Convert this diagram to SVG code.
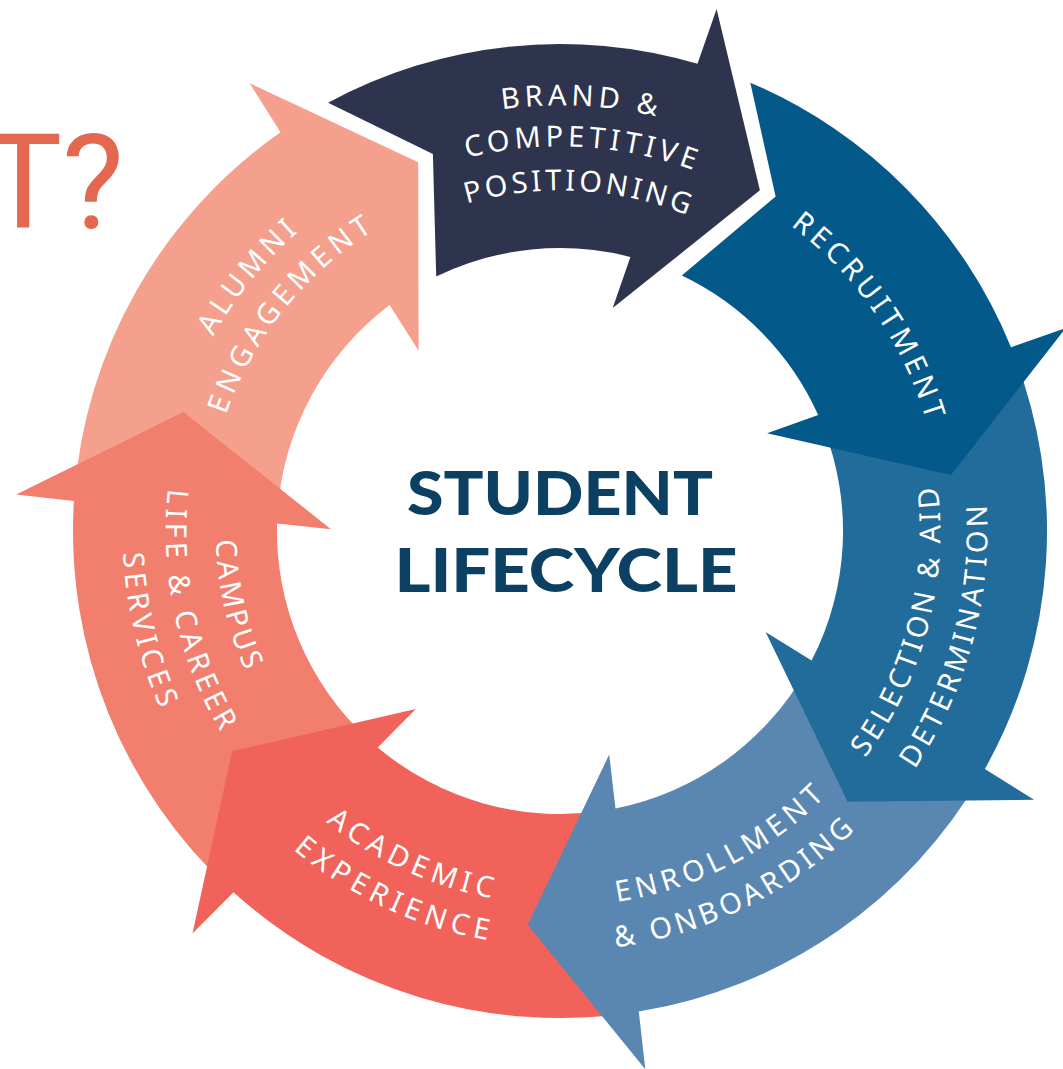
<svg xmlns="http://www.w3.org/2000/svg" xmlns:xlink="http://www.w3.org/1999/xlink" width="1063" height="1069" viewBox="0 0 1063 1069">
<style>
  .lbl { font-family: "Noto Sans", Lato, "Liberation Sans", sans-serif; font-size: 29px; font-weight: 400; fill: #ffffff; text-anchor: middle; }
  .title { font-family: Lato, "Liberation Sans", sans-serif; font-weight: 900; font-size: 60px; fill: #0b4062; text-anchor: middle; }
  .q { font-family: Roboto, "Liberation Sans", sans-serif; font-size: 131px; fill: #e4684f; text-anchor: end; }
</style>
<defs>
  <path id="p-brand1" d="M273.0,216.7 A425.6,425.6 0 0 1 874.3,244.0"/>
  <path id="p-brand2" d="M303.2,244.7 A384.6,384.6 0 0 1 846.3,274.2"/>
  <path id="p-brand3" d="M332.1,277.9 A340.6,340.6 0 0 1 813.1,303.1"/>
  <path id="p-recr" d="M627.1,154.3 A382.6,382.6 0 0 1 936.7,598.1"/>
  <path id="p-sel1" d="M750.2,860.4 A380.4,380.4 0 0 0 889.4,340.8"/>
  <path id="p-sel2" d="M772.4,901.9 A427.4,427.4 0 0 0 930.9,318.6"/>
  <path id="p-enr1" d="M442.8,887.6 A375.4,375.4 0 0 0 916.6,648.2"/>
  <path id="p-enr2" d="M424.0,928.3 A419.9,419.9 0 0 0 957.3,667.0"/>
  <path id="p-aca1" d="M209.8,660.5 A373.4,373.4 0 0 0 689.5,881.2"/>
  <path id="p-aca2" d="M169.6,673.1 A415.4,415.4 0 0 0 702.1,921.4"/>
  <path id="p-cam1" d="M268.9,347.0 A344.4,344.4 0 0 0 376.0,822.1"/>
  <path id="p-cam2" d="M228.5,317.4 A394.4,394.4 0 0 0 346.4,862.5"/>
  <path id="p-cam3" d="M187.4,301.8 A437.4,437.4 0 0 0 330.8,903.6"/>
  <path id="p-alu1" d="M164.6,572.5 A397.6,397.6 0 0 1 518.5,135.6"/>
  <path id="p-alu2" d="M208.6,570.4 A353.6,353.6 0 0 1 520.6,179.6"/>
</defs>
<rect width="1063" height="1069" fill="#ffffff"/>
<text class="q" x="124" y="228">T?</text>
<g id="connectors"/>
<g id="alumni">
  <path fill="#f5a08d" d="M74.3,495.8 A487,487 0 0 1 280.5,132.2 L249.5,83.1 L418.2,162.3 L418.6,350.8 L389.6,305.1 A283,283 0 0 0 277.7,510.6 Z"/>
  <text class="lbl"><textPath xlink:href="#p-alu1" href="#p-alu1" startOffset="50%" textLength="135" lengthAdjust="spacing">ALUMNI</textPath></text>
  <text class="lbl"><textPath xlink:href="#p-alu2" href="#p-alu2" startOffset="50%" textLength="240" lengthAdjust="spacing">ENGAGEMENT</textPath></text>
</g>
<g id="campus">
  <path fill="#f27f6e" d="M229.7,888.8 A487,487 0 0 1 73.9,501.0 L16.2,494.5 L183.4,412.0 L331.0,529.2 L277.1,523.4 A283,283 0 0 0 368.0,739.0 Z"/>
  <text class="lbl"><textPath xlink:href="#p-cam1" href="#p-cam1" startOffset="50%" textLength="135" lengthAdjust="spacing">CAMPUS</textPath></text>
  <text class="lbl"><textPath xlink:href="#p-cam2" href="#p-cam2" startOffset="50%" textLength="253" lengthAdjust="spacing">LIFE &amp; CAREER</textPath></text>
  <text class="lbl"><textPath xlink:href="#p-cam3" href="#p-cam3" startOffset="50%" textLength="161" lengthAdjust="spacing">SERVICES</textPath></text>
</g>
<g id="academic">
  <path fill="#f0625a" d="M633.7,1012.4 A487,487 0 0 1 233.5,892.3 L192.5,933.4 L232.1,751.3 L415.8,708.9 L377.7,747.5 A283,283 0 0 0 602.8,810.7 Z"/>
  <text class="lbl"><textPath xlink:href="#p-aca1" href="#p-aca1" startOffset="50%" textLength="184" lengthAdjust="spacing">ACADEMIC</textPath></text>
  <text class="lbl"><textPath xlink:href="#p-aca2" href="#p-aca2" startOffset="50%" textLength="217" lengthAdjust="spacing">EXPERIENCE</textPath></text>
</g>
<g id="enrollment">
  <path fill="#5a87b1" d="M982.3,773.5 A487,487 0 0 1 638.8,1011.6 L645.3,1069.3 L527.7,924.7 L609.2,754.6 L615.5,808.5 A283,283 0 0 0 805.4,671.9 Z"/>
  <text class="lbl"><textPath xlink:href="#p-enr1" href="#p-enr1" startOffset="50%" textLength="237" lengthAdjust="spacing">ENROLLMENT</textPath></text>
  <text class="lbl"><textPath xlink:href="#p-enr2" href="#p-enr2" startOffset="50%" textLength="271" lengthAdjust="spacing">&amp; ONBOARDING</textPath></text>
</g>
<g id="selection">
  <path fill="#226c9b" d="M1012.9,351.9 A487,487 0 0 1 984.9,769.0 L1034.1,799.8 L847.6,801.7 L765.6,631.9 L811.6,660.6 A283,283 0 0 0 823.2,426.9 Z"/>
  <text class="lbl"><textPath xlink:href="#p-sel1" href="#p-sel1" startOffset="50%" textLength="287" lengthAdjust="spacing">SELECTION &amp; AID</textPath></text>
  <text class="lbl"><textPath xlink:href="#p-sel2" href="#p-sel2" startOffset="50%" textLength="279" lengthAdjust="spacing">DETERMINATION</textPath></text>
</g>
<g id="recruitment">
  <path fill="#04598b" d="M750.3,82.7 A487,487 0 0 1 1011.0,347.3 L1065.8,328.0 L951.0,474.9 L767.1,433.3 L818.2,415.1 A283,283 0 0 0 681.8,275.6 L775.6,196.4 Z"/>
  <text class="lbl"><textPath xlink:href="#p-recr" href="#p-recr" startOffset="50%" textLength="241" lengthAdjust="spacing">RECRUITMENT</textPath></text>
</g>
<g id="brand">
  <path fill="#2e344d" d="M328.1,102.7 A487,487 0 0 1 697.5,63.8 L716.6,9.0 L759.9,190.3 L612.7,308.1 L630.4,256.9 A283,283 0 0 0 436.2,276.5 L432.9,153.9 Z"/>
  <text class="lbl"><textPath xlink:href="#p-brand1" href="#p-brand1" startOffset="50%" textLength="155" lengthAdjust="spacing">BRAND &amp;</textPath></text>
  <text class="lbl"><textPath xlink:href="#p-brand2" href="#p-brand2" startOffset="50%" textLength="230" lengthAdjust="spacing">COMPETITIVE</textPath></text>
  <text class="lbl"><textPath xlink:href="#p-brand3" href="#p-brand3" startOffset="50%" textLength="225" lengthAdjust="spacing">POSITIONING</textPath></text>
</g>
<g id="center">
  <text class="title" x="560" y="515" textLength="306" lengthAdjust="spacingAndGlyphs">STUDENT</text>
  <text class="title" x="566" y="592" textLength="343" lengthAdjust="spacingAndGlyphs">LIFECYCLE</text>
</g>
</svg>
